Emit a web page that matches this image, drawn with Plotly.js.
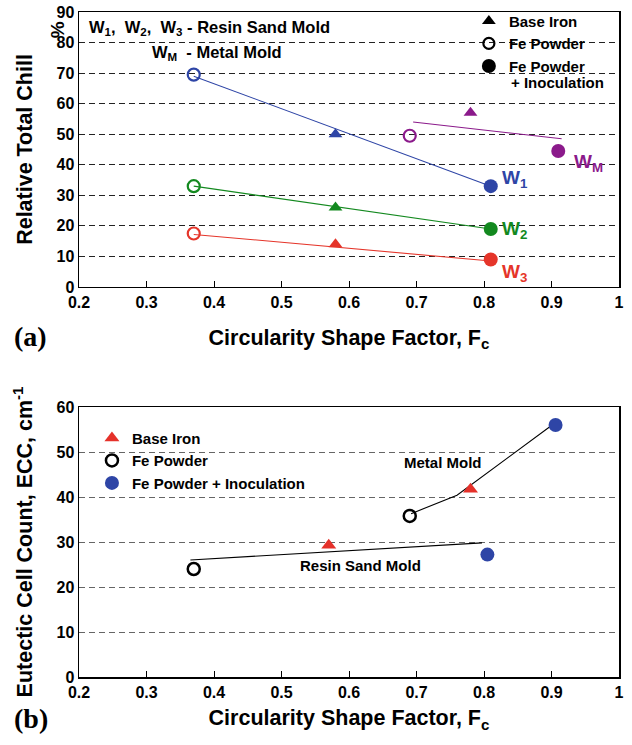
<!DOCTYPE html>
<html>
<head>
<meta charset="utf-8">
<script src="https://cdn.plot.ly/plotly-3.0.1.min.js"></script>
<style>html,body{margin:0;padding:0;background:#fff;}#chart{width:632px;height:745px;}</style>
</head>
<body>
<div id="chart"></div>
<script>
// ---------- Data (a): Relative total chill ----------
const seriesNames   = ['W1', 'W2', 'W3', 'WM'];
const seriesColors  = ['#2e45a6', '#13891f', '#e5352a', '#8b1a8b'];
const fcFePowder    = [0.37, 0.37, 0.37, 0.69];
const chillFePowder = [69.5, 33, 17.5, 49.5];
const fcBaseIron    = [0.58, 0.58, 0.58, 0.78];
const chillBaseIron = [50, 26, 14, 57];
const fcInoc        = [0.81, 0.81, 0.81, 0.91];
const chillInoc     = [33, 19, 9, 44.5];
// fitted trend lines (start / end)
const fitX0 = [0.37, 0.37, 0.37, 0.695];
const fitY0 = [69, 33, 17.2, 54];
const fitX1 = [0.81, 0.81, 0.81, 0.915];
const fitY1 = [33, 19, 8.5, 48.5];

// ---------- Data (b): Eutectic cell count ----------
const eccFcBase = [0.57, 0.78];
const eccBase   = [29.3, 41.7];
const eccFcFe   = [0.37, 0.69];
const eccFe     = [24, 35.8];
const eccFcInoc = [0.805, 0.906];
const eccInoc   = [27.2, 56];
const resinFitX = [0.365, 0.797];
const resinFitY = [26, 29.8];
const metalFitX = [0.692, 0.76, 0.901];
const metalFitY = [36.3, 40.4, 56];

const FONT = 'Liberation Sans, Arial, Helvetica, sans-serif';
const traces = [];

// (a) trend lines
seriesNames.forEach((n, i) => {
  traces.push({
    type: 'scatter', mode: 'lines', xaxis: 'x', yaxis: 'y',
    x: [fitX0[i], fitX1[i]], y: [fitY0[i], fitY1[i]],
    line: {color: seriesColors[i], width: 1.1},
    showlegend: false, hoverinfo: 'skip'
  });
});
// (a) markers
traces.push({
  type: 'scatter', mode: 'markers', xaxis: 'x', yaxis: 'y',
  x: fcFePowder, y: chillFePowder, showlegend: false,
  marker: {symbol: 'circle-open', size: 12, color: seriesColors, line: {width: 2.2, color: seriesColors}}
});
traces.push({
  type: 'scatter', mode: 'markers', xaxis: 'x', yaxis: 'y',
  x: fcBaseIron, y: chillBaseIron, showlegend: false,
  marker: {symbol: 'triangle-up', size: 12, color: seriesColors}
});
traces.push({
  type: 'scatter', mode: 'markers', xaxis: 'x', yaxis: 'y',
  x: fcInoc, y: chillInoc, showlegend: false,
  marker: {symbol: 'circle', size: 14, color: seriesColors}
});
// (a) legend entries
traces.push({type: 'scatter', mode: 'markers', x: [null], y: [null], xaxis: 'x', yaxis: 'y',
  name: 'Base Iron', legend: 'legend', legendgroup: 'a1', marker: {symbol: 'triangle-up', size: 12, color: '#000'}});
traces.push({type: 'scatter', mode: 'markers', x: [null], y: [null], xaxis: 'x', yaxis: 'y',
  name: 'Fe Powder', legend: 'legend', legendgroup: 'a2', marker: {symbol: 'circle-open', size: 11, color: '#000', line: {width: 2.2}}});
traces.push({type: 'scatter', mode: 'markers', x: [null], y: [null], xaxis: 'x', yaxis: 'y',
  name: 'Fe Powder', legend: 'legend', legendgroup: 'a3', marker: {symbol: 'circle', size: 14, color: '#000'}});

// (b) fit lines
traces.push({type: 'scatter', mode: 'lines', xaxis: 'x2', yaxis: 'y2',
  x: resinFitX, y: resinFitY, line: {color: '#000', width: 1.1}, showlegend: false, hoverinfo: 'skip'});
traces.push({type: 'scatter', mode: 'lines', xaxis: 'x2', yaxis: 'y2',
  x: metalFitX, y: metalFitY, line: {color: '#000', width: 1.1}, showlegend: false, hoverinfo: 'skip'});
// (b) markers with legend
traces.push({type: 'scatter', mode: 'markers', xaxis: 'x2', yaxis: 'y2',
  x: eccFcBase, y: eccBase, name: 'Base Iron', legend: 'legend2',
  marker: {symbol: 'triangle-up', size: 13, color: '#e5312a'}});
traces.push({type: 'scatter', mode: 'markers', xaxis: 'x2', yaxis: 'y2',
  x: eccFcFe, y: eccFe, name: 'Fe Powder', legend: 'legend2',
  marker: {symbol: 'circle-open', size: 12, color: '#000', line: {width: 2.5}}});
traces.push({type: 'scatter', mode: 'markers', xaxis: 'x2', yaxis: 'y2',
  x: eccFcInoc, y: eccInoc, name: 'Fe Powder + Inoculation', legend: 'legend2',
  marker: {symbol: 'circle', size: 14, color: '#2e45a6'}});

const xAxisCommon = {
  range: [0.2, 1], dtick: 0.1, tick0: 0.2, ticks: 'inside', ticklen: 6, tickwidth: 1, tickcolor: '#000',
  showline: true, linecolor: '#000', linewidth: 1.5, mirror: true, showgrid: false, zeroline: false,
  automargin: false,
  tickfont: {family: FONT, size: 16, color: '#000', weight: 'bold'}
};
const yAxisCommon = {
  dtick: 10, ticks: '', showline: true, linecolor: '#000', linewidth: 1.5, mirror: true,
  showgrid: true, griddash: '6px,4px', gridwidth: 1, zeroline: false, automargin: false,
  tickfont: {family: FONT, size: 16, color: '#000', weight: 'bold'}
};
const titleFont = {family: FONT, size: 21.5, color: '#000', weight: 'bold'};
const NB = '\u00a0';

const layout = {
  width: 632, height: 745,
  margin: {l: 79, r: 13, t: 12, b: 68, autoexpand: false},
  paper_bgcolor: '#fff', plot_bgcolor: '#fff',
  font: {family: FONT, color: '#000'},
  xaxis: Object.assign({}, xAxisCommon, {domain: [0, 1], anchor: 'y',
    title: {text: 'Circularity Shape Factor, F<sub>c</sub>', font: titleFont, standoff: 20}}),
  yaxis: Object.assign({}, yAxisCommon, {domain: [0.5865, 1], anchor: 'x', range: [0, 90], gridcolor: '#222',
    title: {text: 'Relative Total Chill', font: titleFont, standoff: 18}}),
  xaxis2: Object.assign({}, xAxisCommon, {domain: [0, 1], anchor: 'y2',
    title: {text: 'Circularity Shape Factor, F<sub>c</sub>', font: titleFont, standoff: 10}}),
  yaxis2: Object.assign({}, yAxisCommon, {domain: [0, 0.406], anchor: 'x2', range: [0, 60], gridcolor: '#666',
    title: {text: 'Eutectic Cell Count, ECC, cm<sup>-1</sup>' + NB.repeat(6), font: titleFont, standoff: 18}}),
  legend: {x: 0.722, y: 1.011, xanchor: 'left', yanchor: 'top', bgcolor: 'rgba(0,0,0,0)',
    font: {family: FONT, size: 15, color: '#000', weight: 'bold'}, tracegroupgap: 0},
  legend2: {x: 0.024, y: 0.384, xanchor: 'left', yanchor: 'top', bgcolor: 'rgba(0,0,0,0)',
    font: {family: FONT, size: 15, color: '#000', weight: 'bold'}, tracegroupgap: 0},
  showlegend: true,
  annotations: [
    {xref: 'paper', yref: 'paper', x: 0.0148, y: 0.976, xanchor: 'left', yanchor: 'middle', showarrow: false,
     text: 'W<sub>1</sub>,  W<sub>2</sub>,  W<sub>3</sub> - Resin Sand Mold', font: {family: FONT, size: 16.5, weight: 'bold', color: '#000'}},
    {xref: 'paper', yref: 'paper', x: 0.131, y: 0.938, xanchor: 'left', yanchor: 'middle', showarrow: false,
     text: 'W<sub>M</sub>  - Metal Mold', font: {family: FONT, size: 16.5, weight: 'bold', color: '#000'}},
    {xref: 'paper', yref: 'paper', x: 0.796, y: 0.8947, xanchor: 'left', yanchor: 'middle', showarrow: false,
     text: '+ Inoculation', font: {family: FONT, size: 15, weight: 'bold', color: '#000'}},
    {xref: 'x', yref: 'y', x: 0.824, y: 35.3, xanchor: 'left', yanchor: 'middle', showarrow: false,
     text: 'W<sub>1</sub>', font: {family: FONT, size: 19, weight: 'bold', color: seriesColors[0]}},
    {xref: 'x', yref: 'y', x: 0.824, y: 18.5, xanchor: 'left', yanchor: 'middle', showarrow: false,
     text: 'W<sub>2</sub>', font: {family: FONT, size: 19, weight: 'bold', color: seriesColors[1]}},
    {xref: 'x', yref: 'y', x: 0.824, y: 4.5, xanchor: 'left', yanchor: 'middle', showarrow: false,
     text: 'W<sub>3</sub>', font: {family: FONT, size: 19, weight: 'bold', color: seriesColors[2]}},
    {xref: 'x', yref: 'y', x: 0.931, y: 40.5, xanchor: 'left', yanchor: 'middle', showarrow: false,
     text: 'W<sub>M</sub>', font: {family: FONT, size: 19, weight: 'bold', color: seriesColors[3]}},
    {xref: 'paper', yref: 'paper', x: -0.041, y: 0.974, xanchor: 'center', yanchor: 'middle', showarrow: false,
     textangle: -90, text: '%', font: {family: FONT, size: 19, weight: 'bold', color: '#000'}},
    {xref: 'x2', yref: 'y2', x: 0.739, y: 47.6, xanchor: 'center', yanchor: 'middle', showarrow: false,
     text: 'Metal Mold', font: {family: FONT, size: 15, weight: 'bold', color: '#000'}},
    {xref: 'x2', yref: 'y2', x: 0.617, y: 24.7, xanchor: 'center', yanchor: 'middle', showarrow: false,
     text: 'Resin Sand Mold', font: {family: FONT, size: 15, weight: 'bold', color: '#000'}},
    {xref: 'paper', yref: 'paper', x: -0.089, y: 0.512, xanchor: 'center', yanchor: 'middle', showarrow: false,
     text: '(a)', font: {family: 'Liberation Serif, Times New Roman, serif', size: 28, weight: 'bold', color: '#000'}},
    {xref: 'paper', yref: 'paper', x: -0.089, y: -0.062, xanchor: 'center', yanchor: 'middle', showarrow: false,
     text: '(b)', font: {family: 'Liberation Serif, Times New Roman, serif', size: 28, weight: 'bold', color: '#000'}}
  ]
};

Plotly.newPlot('chart', traces, layout, {displayModeBar: false, staticPlot: true});
</script>
</body>
</html>
